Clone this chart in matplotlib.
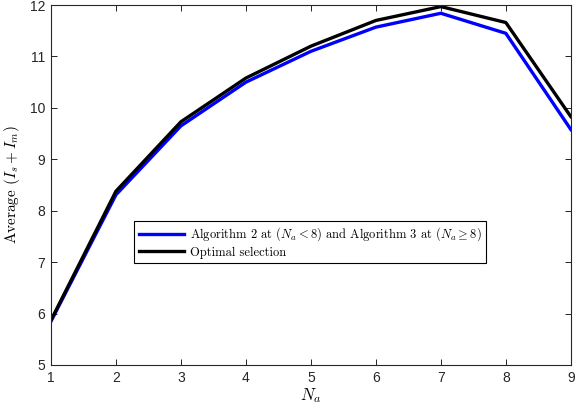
import matplotlib
matplotlib.use("Agg")
import matplotlib.pyplot as plt

plt.rcParams['mathtext.fontset'] = 'cm'
plt.rcParams['axes.unicode_minus'] = False

na = [1, 2, 3, 4, 5, 6, 7, 8, 9]
alg = [5.85, 8.31, 9.65, 10.50, 11.10, 11.57, 11.84, 11.45, 9.58]
opt = [5.87, 8.38, 9.73, 10.58, 11.20, 11.70, 11.97, 11.66, 9.83]
labels = [r'Algorithm 2 at $(N_a<8)$ and Algorithm 3 at $(N_a\geq 8)$', 'Optimal selection']
xticks = [1, 2, 3, 4, 5, 6, 7, 8, 9]
yticks = [5, 6, 7, 8, 9, 10, 11, 12]

fig = plt.figure(figsize=(5.76, 4.2), dpi=100)
ax = fig.add_axes([0.0885, 0.131, 0.9025, 0.857])
ax.plot(na, alg, color=(0, 0, 1), lw=2.4, label=labels[0])
ax.plot(na, opt, color='black', lw=2.4, label=labels[1])
ax.set_xlim(1, 9)
ax.set_ylim(5, 12)
ax.set_xticks(xticks)
ax.set_yticks(yticks)
for lab in ax.get_xticklabels() + ax.get_yticklabels():
    lab.set_family('Liberation Sans')
    lab.set_fontsize(10)
    lab.set_color('#262626')
ax.tick_params(direction='in', top=True, right=True, length=4, width=0.6, pad=4)
for s in ax.spines.values():
    s.set_linewidth(0.8)
    s.set_color('#262626')
ax.set_xlabel(r'$N_a$', fontsize=12, labelpad=1)
ax.set_ylabel(r'Average $(I_s+I_m)$', fontsize=11, family='cmr10', labelpad=6)
leg = ax.legend(loc='lower left', bbox_to_anchor=(0.16, 0.283), prop={'family': 'cmr10', 'size': 9},
                fancybox=False, edgecolor='black', framealpha=1, handlelength=3.6,
                borderpad=0.35, labelspacing=0.25, handletextpad=0.5, borderaxespad=0)
leg.get_frame().set_linewidth(0.8)
fig.savefig('out.png', dpi=100)
